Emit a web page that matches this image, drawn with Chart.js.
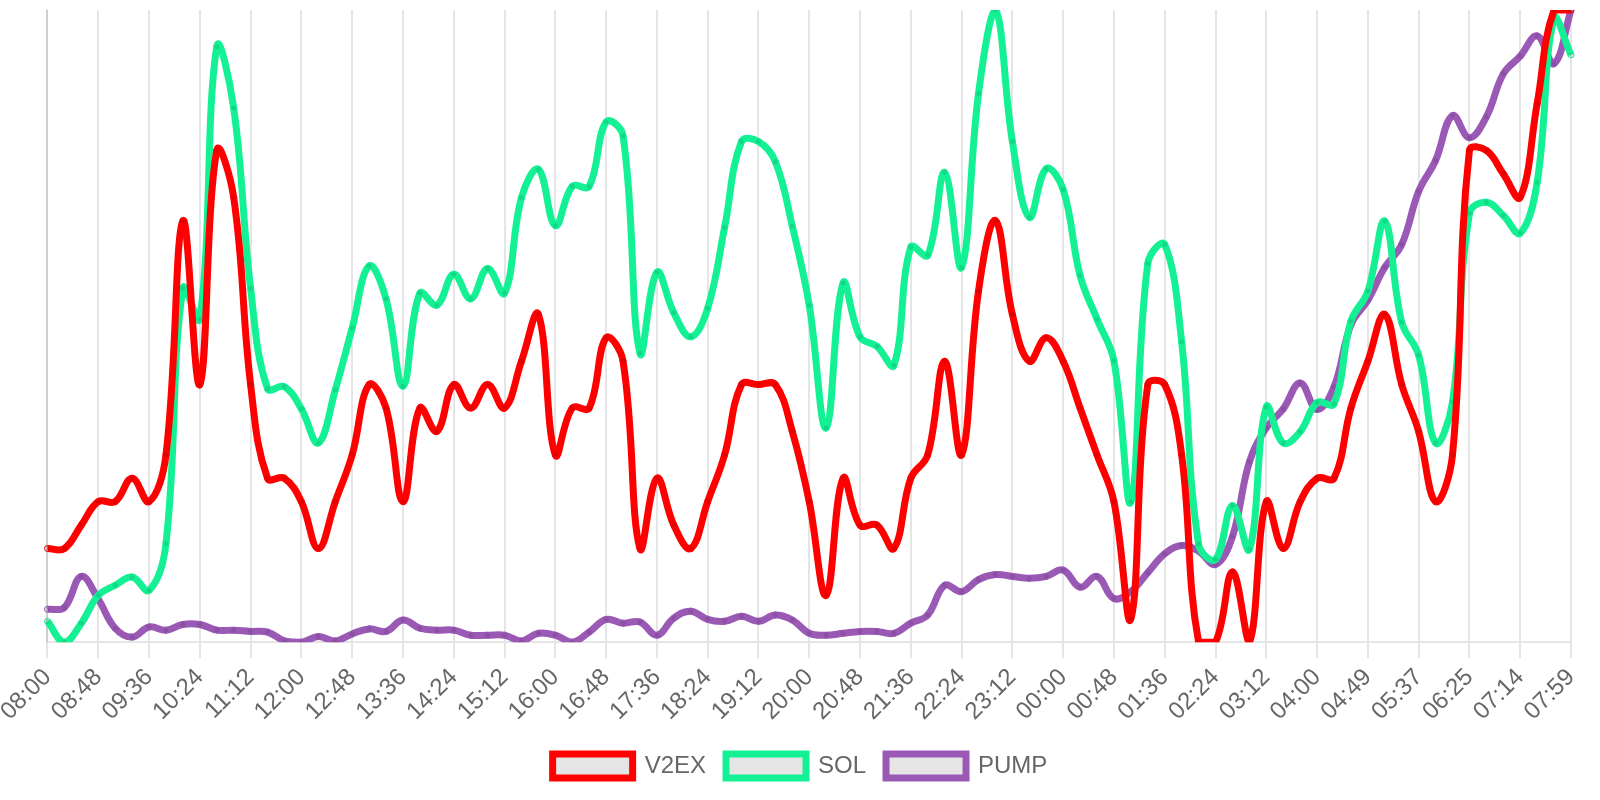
<!DOCTYPE html>
<html>
<head>
<meta charset="utf-8">
<title>V2EX / SOL / PUMP</title>
<script src="https://cdn.jsdelivr.net/npm/chart.js@4.4.1/dist/chart.umd.min.js"></script>
<style>
  html, body { margin: 0; padding: 0; background: #fff; }
  #wrap { width: 1600px; height: 800px; }
</style>
</head>
<body>
<div id="wrap"><canvas id="lineChart" width="1600" height="800"></canvas></div>
<script>
//time labels, every 16 min (a few drift at the end)
const timeLabels = [
  "08:00","08:16","08:32","08:48","09:04","09:20","09:36","09:52","10:08","10:24",
  "10:40","10:56","11:12","11:28","11:44","12:00","12:16","12:32","12:48","13:04",
  "13:20","13:36","13:52","14:08","14:24","14:40","14:56","15:12","15:28","15:44",
  "16:00","16:16","16:32","16:48","17:04","17:20","17:36","17:52","18:08","18:24",
  "18:40","18:56","19:12","19:28","19:44","20:00","20:16","20:32","20:48","21:04",
  "21:20","21:36","21:52","22:08","22:24","22:40","22:56","23:12","23:28","23:44",
  "00:00","00:16","00:32","00:48","01:04","01:20","01:36","01:52","02:08","02:24",
  "02:40","02:56","03:12","03:28","03:44","04:00","04:16","04:32","04:49","05:05",
  "05:21","05:37","05:53","06:09","06:25","06:41","06:57","07:14","07:29","07:44",
  "07:59"
];

//V2EX moves in price steps (0 = low of the day, 27 = high)
const v2exValues = [
  4,4,5,6,6,7,6,8,18,11,
  21,19,11,7,7,6,4,6,8,11,
  10,6,10,9,11,10,11,10,12,14,
  8,10,10,13,12,4,7,5,4,6,
  8,11,11,11,9,6,2,7,5,5,
  4,7,8,12,8,15,18,14,12,13,
  12,10,8,6,1,11,11,8,0,0,
  3,0,6,4,6,7,7,10,12,14,
  11,9,6,8,21,21,20,19,23,27,
  27
];

//SOL, % of the day's range
const solValues = [
  3.3,0,3.0,7.4,9.0,10.3,8.2,15.6,56.0,51.1,
  94.2,84.5,56.0,40.1,40.4,36.9,31.5,39.9,49.7,59.5,
  54.3,40.5,55.2,53.3,58.2,54.3,59.1,55.2,70.3,74.8,
  65.9,72.1,72.1,82.3,80.1,45.7,58.5,52.1,48.3,52.8,
  65.6,79.2,79.2,76.0,65.8,53.3,33.9,56.8,48.3,46.8,
  43.8,62.5,61.2,74.3,59.3,86.8,100,79.2,67.2,74.9,
  71.6,58.0,51.1,44.5,22.2,59.9,62.9,47.5,15.5,13.1,
  21.6,14.7,37.2,31.5,33.3,37.9,37.7,50.8,55.5,66.6,
  50.6,45.4,31.5,38.0,67.8,69.6,67.5,64.7,72.7,98.7,
  92.9
];

//PUMP, % of the day's range
const pumpValues = [
  5.2,5.5,10.4,6.8,2.2,0.8,2.4,1.9,2.8,2.8,
  1.9,1.9,1.7,1.6,0.2,0,0.9,0.2,1.3,2.1,
  1.7,3.5,2.2,1.9,1.9,1.1,1.1,1.1,0.2,1.4,
  1.1,0,1.6,3.6,3.0,3.2,1.1,3.8,4.9,3.6,
  3.3,4.1,3.3,4.3,3.5,1.4,1.1,1.4,1.7,1.7,
  1.4,3.0,4.3,9.0,8.0,9.9,10.7,10.4,10.1,10.4,
  11.4,8.7,10.4,6.9,8.0,11.0,14.0,15.3,14.4,12.3,
  16.7,28.5,33.9,36.9,41.0,36.8,40.4,50.2,54.1,59.3,
  62.9,71.3,76.2,83.3,79.8,83.1,89.9,92.7,95.9,91.5,
  100
];

const lineColors = ["#ff0000", "#14f195", "#9b59b6"];

Chart.defaults.font.size = 24;
Chart.defaults.color = "#666";

new Chart("lineChart", {
  type: "line",
  data: {
    labels: timeLabels,
    datasets: [{
      label: "V2EX",
      data: v2exValues,
      borderColor: lineColors[0],
      yAxisID: "yStep"
    },{
      label: "SOL",
      data: solValues,
      borderColor: lineColors[1],
      yAxisID: "y"
    },{
      label: "PUMP",
      data: pumpValues,
      borderColor: lineColors[2],
      yAxisID: "y"
    }]
  },
  options: {
    responsive: false,
    animation: false,
    layout: { padding: { top: 10, bottom: 12 } },
    elements: {
      line: { borderWidth: 7, tension: 0.4 },
      point: { radius: 3, borderWidth: 1 }
    },
    scales: {
      x: {
        grid: { lineWidth: 2, tickLength: 16 },
        border: { width: 2 },
        afterFit: function(scale) {
          scale.height += 3; //a little more room under the labels
          scale.paddingRight = 29; //keep the legend centred on the canvas
        },
        ticks: {
          autoSkip: false,
          minRotation: 45,
          maxRotation: 45,
          padding: 5,
          callback: function(val, i) { //only every third label (and its grid line)
            return i % 3 === 0 ? timeLabels[i] : null;
          }
        }
      },
      y: {
        min: 0,
        max: 100,
        grid: { display: false },
        border: { width: 2 },
        ticks: { display: false }
      },
      yStep: {
        display: false,
        min: 0,
        max: 27
      }
    },
    plugins: {
      legend: {
        position: "bottom",
        labels: { boxWidth: 80, padding: 20 }
      },
      tooltip: { enabled: false }
    }
  }
});
</script>
</body>
</html>
